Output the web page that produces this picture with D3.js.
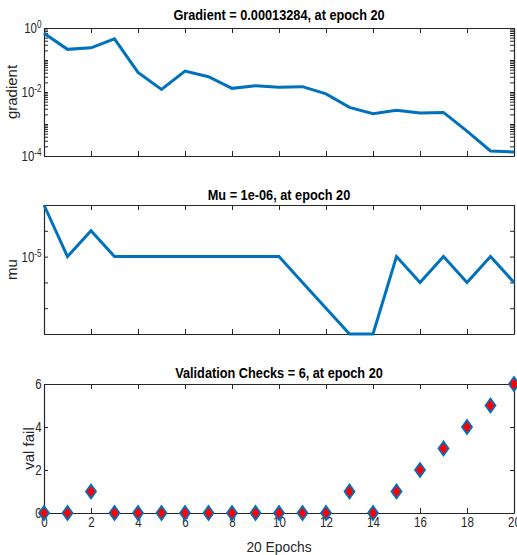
<!DOCTYPE html>
<html>
<head>
<meta charset="utf-8">
<script src="https://cdn.jsdelivr.net/npm/d3@7"></script>
<style>
  body { margin: 0; background: #fff; }
  svg { display: block; font-family: 'Liberation Sans', Arial, sans-serif; }
  .tick text { fill: #262626; font-size: 14px; }
  .tick line, .domain { stroke: #262626; }
</style>
</head>
<body>
<script>
// data
const epochs = d3.range(0, 21);
const gradientValues = [0.68, 0.215, 0.24, 0.46, 0.041, 0.0121, 0.045, 0.030, 0.013, 0.0158,
                        0.014, 0.0147, 0.0087, 0.0033, 0.0021, 0.0027, 0.0022, 0.0023, 0.0006, 0.000144, 0.00013284];
const muValues = [1e-3, 1e-5, 1e-4, 1e-5, 1e-5, 1e-5, 1e-5, 1e-5, 1e-5, 1e-5,
                  1e-5, 1e-6, 1e-7, 1e-8, 1e-8, 1e-5, 1e-6, 1e-5, 1e-6, 1e-5, 1e-6];
const valFailValues = [0, 0, 1, 0, 0, 0, 0, 0, 0, 0, 0, 0, 0, 1, 0, 1, 2, 3, 4, 5, 6];
const titles = ["Gradient = 0.00013284, at epoch 20", "Mu = 1e-06, at epoch 20", "Validation Checks = 6, at epoch 20"];
const yLabels = ["gradient", "mu", "val fail"];
const xTicks = [0, 2, 4, 6, 8, 10, 12, 14, 16, 18, 20];
const gradLabelTicks = [1e-4, 1e-2, 1];
const muLabelTicks = [1e-5];
const valTicks = [0, 2, 4, 6];
const xLabel = "20 Epochs";

const width = 517, height = 555;
const blue = "#0072BD";
// no narrow font installed, so squeeze text horizontally
const narrow = "scale(0.82,1)";

let svg = d3.select("body").append("svg")
    .attr("width", width)
    .attr("height", height);

let x = d3.scaleLinear().domain([0, 20]).range([44, 514]);

// decade ticks, with 2..9 minors if asked
function logTicks(lo, hi, minor) {
    let t = [];
    for (let e = lo; e <= hi; e++) {
        if (minor && e < hi) { for (let m = 1; m < 10; m++) t.push(m * Math.pow(10, e)); }
        else t.push(Math.pow(10, e));
    }
    return t;
}

let panels = [
    {y: d3.scaleLog().domain([1e-4, 1]).range([156, 28]), ticks: logTicks(-4, 0, true), labels: gradLabelTicks, log: true, data: gradientValues, titleY: 20, labelX: 12},
    {y: d3.scaleLog().domain([1e-8, 1e-3]).range([334, 205]), ticks: logTicks(-8, -3, false), labels: muLabelTicks, log: true, data: muValues, titleY: 200, labelX: 12},
    {y: d3.scaleLinear().domain([0, 6]).range([513, 384]), ticks: valTicks, labels: valTicks, log: false, data: valFailValues, titleY: 378, labelX: 29}
];

const near = (a, b) => Math.abs(a - b) / Math.max(Math.abs(b), 1e-12) < 1e-6;

panels.forEach((p, i) => {
    let g = svg.append("g");
    let [yb, yt] = p.y.range();
    let last = i === panels.length - 1;

    let fmt = d => {
        if (!p.labels.some(l => near(d, l))) return "";
        return p.log ? "10" : String(d);
    };

    let left = g.append("g").attr("transform", "translate(44,0)")
        .call(d3.axisLeft(p.y).tickValues(p.ticks).tickFormat(fmt).tickSize(-4).tickSizeOuter(0).tickPadding(3));
    g.append("g").attr("transform", "translate(514,0)")
        .call(d3.axisRight(p.y).tickValues(p.ticks).tickFormat("").tickSize(-4).tickSizeOuter(0));
    g.append("g").attr("transform", `translate(0,${yt})`)
        .call(d3.axisTop(x).tickValues(xTicks).tickFormat("").tickSize(-5).tickSizeOuter(0));
    g.append("g").attr("transform", `translate(0,${yb})`)
        .call(d3.axisBottom(x).tickValues(xTicks).tickFormat(last ? d3.format("d") : "").tickSize(-5).tickSizeOuter(0).tickPadding(4));

    g.selectAll(".domain").attr("stroke-width", 1.2);
    g.selectAll("text").attr("font-family", null).attr("font-size", null).attr("transform", narrow);

    if (p.log) {
        left.selectAll(".tick text").each(function(d) {
            let t = d3.select(this);
            if (!t.text()) return;
            t.append("tspan").attr("dy", "-0.5em").style("font-size", "10px").text(Math.round(Math.log10(d)));
        });
    }

    // series
    let line = d3.line().x((d, j) => x(epochs[j])).y(d => p.y(d));
    if (i < 2) {
        g.append("path")
            .datum(p.data)
            .attr("fill", "none")
            .attr("stroke", blue)
            .attr("stroke-width", 3)
            .attr("stroke-linejoin", "miter")
            .attr("d", line);
    } else {
        g.selectAll(".pt").data(p.data).enter().append("path")
            .attr("class", "pt")
            .attr("transform", (d, j) => `translate(${x(epochs[j])},${p.y(d)})`)
            .attr("d", "M0,-7L5,0L0,7L-5,0Z")
            .attr("fill", "#ff0000")
            .attr("stroke", blue)
            .attr("stroke-width", 1.8);
    }

    g.append("text")
        .attr("transform", `translate(279,${p.titleY}) scale(0.91,1)`)
        .attr("text-anchor", "middle")
        .attr("font-weight", "bold")
        .attr("font-size", 14)
        .attr("fill", "#000")
        .text(titles[i]);

    g.append("text")
        .attr("transform", `translate(${p.labelX},${(yt + yb) / 2}) rotate(-90)`)
        .attr("text-anchor", "middle")
        .attr("dy", "0.35em")
        .attr("font-size", 15)
        .attr("fill", "#262626")
        .text(yLabels[i]);
});

svg.append("text")
    .attr("transform", "translate(279,552) scale(0.92,1)")
    .attr("text-anchor", "middle")
    .attr("font-size", 15)
    .attr("fill", "#262626")
    .text(xLabel);
</script>
</body>
</html>
